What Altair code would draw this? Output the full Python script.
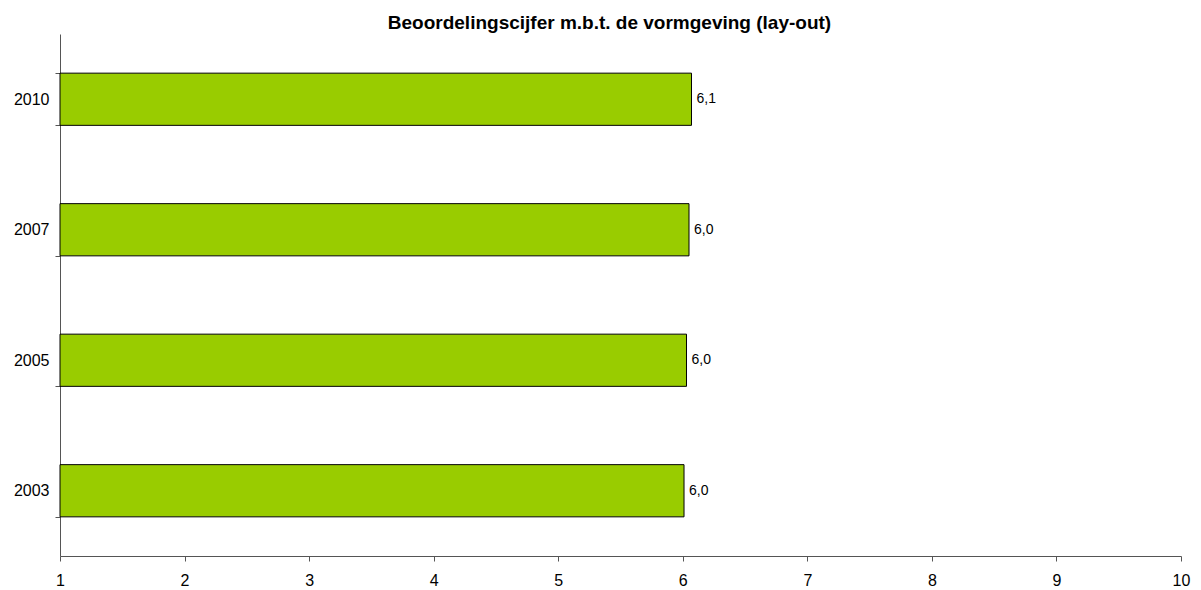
import altair as alt
import pandas as pd

years = ["2010", "2007", "2005", "2003"]
values = [6.07, 6.05, 6.03, 6.01]
labels = ["6,1", "6,0", "6,0", "6,0"]
x_ticks = [1, 2, 3, 4, 5, 6, 7, 8, 9, 10]

df = pd.DataFrame({"year": years, "value": values, "label": labels, "base": [1] * len(years)})

FONT = "Liberation Sans"

x = alt.X("value:Q",
          scale=alt.Scale(domain=[1, 10], zero=False, nice=False),
          axis=alt.Axis(values=x_ticks, format="d", title=None, grid=False, labelFontSize=16,
                        labelFont=FONT, labelColor="black", domainColor="#555555",
                        tickColor="#555555", tickSize=5, labelPadding=11, labelFlush=False))
y = alt.Y("year:N", sort=years,
          scale=alt.Scale(paddingInner=0.6, paddingOuter=0.3),
          axis=alt.Axis(title=None, tickBand="extent", labelFontSize=16, labelFont=FONT,
                        labelColor="black", domainColor="#555555", tickColor="#555555",
                        tickSize=5, labelPadding=6))

bars = alt.Chart(df).mark_bar(color="#99CC00", stroke="black", strokeWidth=1).encode(
    x=x, x2="base:Q", y=y)

text = alt.Chart(df).mark_text(align="left", baseline="middle", dx=5, fontSize=14,
                               font=FONT, color="black").encode(
    x="value:Q", y=alt.Y("year:N", sort=years), text="label:N")

chart = alt.layer(bars, text).properties(
    width=1121, height=522,
    background="white",
    title=alt.TitleParams("Beoordelingscijfer m.b.t. de vormgeving (lay-out)", fontSize=19,
                          font=FONT, fontWeight="bold", color="black", anchor="middle",
                          dx=-11, dy=11, offset=4),
    autosize=alt.AutoSizeParams(type="none"),
    padding={"left": 52, "top": 26, "right": 12, "bottom": 40},
).configure_view(stroke=None)

chart.save("out.html", embed_options={"renderer": "svg", "actions": False})
